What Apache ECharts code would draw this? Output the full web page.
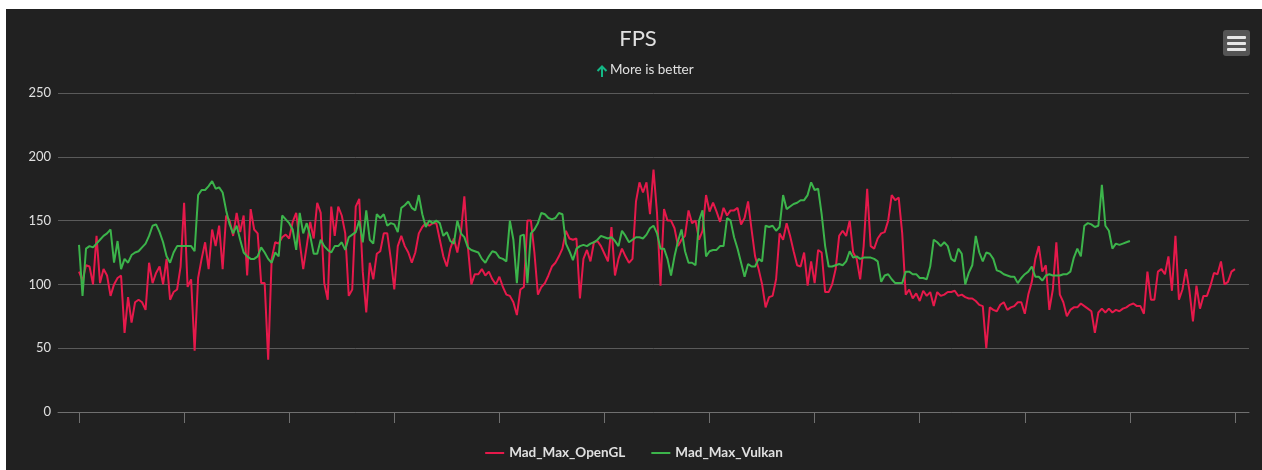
<!DOCTYPE html>
<html><head><meta charset="utf-8">
<script src="https://cdn.jsdelivr.net/npm/echarts@6/dist/echarts.min.js"></script>
<style>html,body{margin:0;padding:0;background:#fff;} #c{position:absolute;left:6px;top:9px;width:1256px;height:461px;}</style>
</head><body><div id="c"></div>
<script>
const seriesNames = ['Mad_Max_OpenGL', 'Mad_Max_Vulkan'];
const openglFps = [
110,103,115,114,100,138,101,112,107,91,
100,105,107,62,90,70,86,88,86,80,
117,101,109,114,100,120,88,94,96,114,
164,98,104,48,105,120,133,112,143,130,
146,112,154,150,138,156,141,154,107,159,
143,140,101,101,41,120,133,132,137,139,
136,149,156,133,112,130,149,136,164,156,
101,88,161,138,161,154,140,91,96,161,
167,
110,78,117,104,124,126,140,140,120,96,
130,138,130,125,117,125,140,145,148,146,
148,148,135,122,114,128,136,125,140,169,
130,100,108,108,112,107,110,104,100,106,
98,92,91,86,76,96,98,150,150,125,
92,98,101,107,114,117,122,128,142,136,
135,136,89,120,127,118,133,134,130,124,
118,145,107,120,128,122,117,120,165,180,
172,180,155,190,156,
99,159,150,150,144,130,135,138,158,148,
150,135,142,170,157,164,157,149,160,154,
158,158,160,147,152,165,143,122,112,100,
82,90,91,104,140,135,148,138,126,115,
114,125,99,118,101,127,125,94,94,100,
112,138,142,138,150,125,120,104,130,175,
130,128,136,140,141,150,170,166,168,140,
92,96,89,93,87,95,91,94,83,94,
91,92,94,94,95,91,
92,90,89,89,87,84,83,50,82,80,
79,84,86,80,82,83,86,86,77,92,
102,120,130,110,115,80,96,133,92,86,
75,80,82,82,85,83,81,79,62,78,
81,78,81,78,80,79,81,82,84,85,
83,83,77,110,88,88,110,112,108,122,
95,138,88,96,112,95,71,99,81,91,
91,99,109,108,118,100,102,110,112
];
const vulkanFps = [
131,91,128,130,129,132,135,138,140,143,
117,134,112,120,117,123,125,126,129,132,
138,146,147,141,133,122,117,125,130,130,
130,130,130,126,170,174,174,177,181,175,
176,172,158,147,140,146,135,125,122,120,
120,122,129,125,120,117,125,122,154,151,
148,143,127,156,140,148,138,124,124,135,
130,127,125,130,130,133,127,137,139,141,
150,
133,158,135,132,155,152,155,146,148,147,
141,160,162,165,160,158,170,155,145,150,
148,150,148,138,141,134,132,150,140,137,
129,127,126,125,120,117,122,126,125,121,
120,118,150,135,101,138,139,101,140,143,
148,156,155,152,151,152,156,155,132,126,
119,128,130,131,130,132,133,135,138,137,
136,137,134,130,142,138,133,135,137,137,
136,139,144,146,140,
128,128,120,107,122,134,143,126,117,117,
115,150,158,122,126,127,127,130,130,152,
150,137,128,117,106,116,114,114,120,118,
146,145,146,142,145,170,159,161,163,164,
166,166,170,180,174,175,155,130,114,114,
115,116,115,118,126,121,122,120,121,121,
121,120,118,102,107,108,104,101,101,101,
110,110,108,108,105,105,104,114,135,133,
130,133,130,120,118,128,
124,100,109,115,138,125,118,125,124,120,
111,110,108,107,106,106,101,105,108,110,
114,106,106,103,107,108,107,107,107,108,
108,110,121,128,122,146,148,147,145,146,
178,146,142,128,132,131,132,133,134
];
const yMin = 0, yMax = 250, yStep = 50;
const padStart = 6, padEnd = 4, tickEvery = 30;

const total = padStart + openglFps.length + padEnd;
const categories = Array.from({length: total}, (_, i) => String(i - padStart));
const toData = arr => arr.map((v, i) => [i + padStart, v]);

const chart = echarts.init(document.getElementById('c'), null, {renderer: 'canvas'});
const txt = '#e0e0e0';
const arrowColor = '#14b886';
chart.setOption({
  backgroundColor: '#212121',
  animation: false,
  title: [
    {text: 'FPS', left: 627, top: 14, textAlign: 'center',
     textStyle: {color: txt, fontFamily: 'Lato', fontSize: 22, fontWeight: 'normal'}},
    {text: 'More is better', left: 604, top: 54, padding: 0,
     textStyle: {color: txt, fontFamily: 'Lato', fontSize: 13.5, fontWeight: 'normal'}}
  ],
  legend: {
    top: 432, left: 'center', itemGap: 26, icon: 'rect', itemWidth: 19, itemHeight: 2,
    padding: [5, 0, 5, 6],
    textStyle: {color: txt, fontFamily: 'Lato', fontSize: 13.5, fontWeight: 'bold'},
    data: seriesNames
  },
  grid: {left: 52, right: 13, top: 84, bottom: 58},
  xAxis: {
    type: 'category', data: categories, boundaryGap: false,
    axisLine: {lineStyle: {color: '#707070', width: 1}},
    axisTick: {length: 11, lineStyle: {color: '#707070'},
      interval: (i) => i >= padStart && (i - padStart) % tickEvery === 0},
    axisLabel: {show: false},
    splitLine: {show: false}
  },
  yAxis: {
    type: 'value', min: yMin, max: yMax, interval: yStep,
    axisLine: {show: false}, axisTick: {show: false},
    axisLabel: {color: txt, fontFamily: 'Lato', fontSize: 13, margin: 7},
    splitLine: {lineStyle: {color: '#5a5a5a', width: 1}}
  },
  series: [
    {name: seriesNames[0], type: 'line', data: toData(openglFps), showSymbol: false, symbol: 'none',
     color: '#e6194b', lineStyle: {width: 2}, z: 2},
    {name: seriesNames[1], type: 'line', data: toData(vulkanFps), showSymbol: false, symbol: 'none',
     color: '#3cb44b', lineStyle: {width: 2}, z: 3}
  ],
  graphic: [
    {type: 'group', left: 1217, top: 21,
     children: [
      {type: 'rect', shape: {x: 0, y: 0, width: 27, height: 26, r: 3}, style: {fill: '#555555'}},
      {type: 'rect', shape: {x: 4, y: 6, width: 19, height: 3, r: 1}, style: {fill: '#e6e6e6'}},
      {type: 'rect', shape: {x: 4, y: 12, width: 19, height: 3, r: 1}, style: {fill: '#e6e6e6'}},
      {type: 'rect', shape: {x: 4, y: 18, width: 19, height: 3, r: 1}, style: {fill: '#e6e6e6'}}
     ]},
    {type: 'group', left: 589, top: 55,
     children: [
      {type: 'line', shape: {x1: 5.5, y1: 1, x2: 5.5, y2: 11.5}, style: {stroke: arrowColor, lineWidth: 2}},
      {type: 'polyline', shape: {points: [[1, 5.5], [5.5, 1], [10, 5.5]]}, style: {stroke: arrowColor, lineWidth: 2, fill: null}}
     ]}
  ]
});
</script></body></html>
